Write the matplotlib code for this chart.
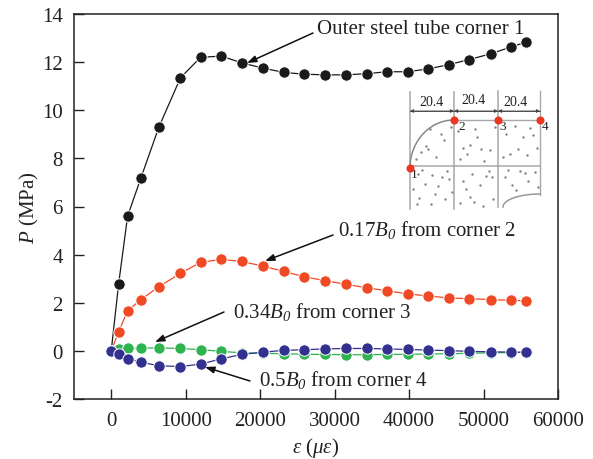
import numpy as np
import matplotlib
matplotlib.use("Agg")
import matplotlib.pyplot as plt

plt.rcParams['font.family'] = ['Liberation Serif', 'DejaVu Serif']
plt.rcParams['mathtext.fontset'] = 'custom'
plt.rcParams['mathtext.rm'] = 'Liberation Serif'
plt.rcParams['mathtext.it'] = 'Liberation Serif:italic'
plt.rcParams['mathtext.cal'] = 'Liberation Serif:italic'
plt.rcParams['mathtext.default'] = 'regular'
plt.rcParams['axes.unicode_minus'] = False

strain = [0, 1000, 2200, 4000, 6400, 9300, 12000, 14800, 17500, 20400, 23200, 25900,
          28700, 31500, 34300, 37000, 39800, 42600, 45400, 48000, 51000, 53700, 55700]
corner1 = [0, 2.8, 5.6, 7.2, 9.3, 11.35, 12.2, 12.25, 11.97, 11.75, 11.57, 11.5,
           11.47, 11.47, 11.52, 11.6, 11.6, 11.72, 11.9, 12.1, 12.35, 12.63, 12.83]
corner2 = [0, 0.8, 1.67, 2.13, 2.67, 3.22, 3.68, 3.8, 3.72, 3.52, 3.3, 3.08,
           2.92, 2.77, 2.62, 2.5, 2.37, 2.28, 2.2, 2.17, 2.13, 2.1, 2.08]
corner3 = [0, 0.08, 0.1, 0.12, 0.12, 0.1, 0.05, -0.02, -0.08, -0.1, -0.12, -0.14,
           -0.15, -0.16, -0.16, -0.15, -0.14, -0.13, -0.12, -0.1, -0.08, -0.07, -0.06]
corner4 = [0, -0.15, -0.33, -0.47, -0.62, -0.65, -0.55, -0.33, -0.15, -0.05, 0.02, 0.05,
           0.08, 0.1, 0.1, 0.08, 0.06, 0.03, 0.01, -0.02, -0.04, -0.05, -0.06]
series_colors = ['#1a1a1a', '#f04a25', '#2fb350', '#33318f']

xticks = [0, 10000, 20000, 30000, 40000, 50000, 60000]
yticks = [-2, 0, 2, 4, 6, 8, 10, 12, 14]

W, H = 593, 460
fig = plt.figure(figsize=(W / 100, H / 100), dpi=100)
L, R, T, B = 74, 558, 15, 400
ax = fig.add_axes([L / W, 1 - B / H, (R - L) / W, (B - T) / H])
ax.set_xlim(-5000, 60000)
ax.set_ylim(-2, 14)

for vals, col in zip([corner1, corner2, corner3, corner4], series_colors):
    ax.plot(strain, vals, '-', color=col, lw=0.9, marker='o', ms=8.2, mew=0.7, mec='white')

ax.set_xticks(xticks)
ax.set_yticks(yticks)
ax.tick_params(axis='both', direction='in', length=7, width=1, labelsize=15, color='#222222',
               labelcolor='#222222')
ax.tick_params(axis='x', pad=9)
ax.tick_params(axis='y', pad=8)
for s in ax.spines.values():
    s.set_linewidth(1.1)
    s.set_color('#222222')
ax.set_xlabel(r'$\mathit{\varepsilon}$ ($\mathit{\mu\varepsilon}$)', fontsize=15, color='#222222', labelpad=3)
ax.set_ylabel(r'$\mathit{P}$ (MPa)', fontsize=15, color='#222222', labelpad=1)

# annotations, placed in picture pixels
overlay = fig.add_axes([0, 0, 1, 1], facecolor='none')
overlay.set_xlim(0, W)
overlay.set_ylim(H, 0)
overlay.axis('off')

arrow = dict(arrowstyle='-|>,head_length=0.55,head_width=0.2', color='#111111', lw=1.1, shrinkA=0, shrinkB=0)
notes = [
    ('Outer steel tube corner 1', (317, 29), (313, 34), (247, 64)),
    (r'0.17$\mathit{B}_{\mathcal{0}}$ from corner 2', (338, 230), (333, 236), (265, 262)),
    (r'0.34$\mathit{B}_{\mathcal{0}}$ from corner 3', (233, 312), (224, 313), (155, 343)),
    (r'0.5$\mathit{B}_{\mathcal{0}}$ from corner 4', (259, 380), (250, 382), (205, 368)),
]
for txt, pos, tail, head in notes:
    overlay.text(pos[0], pos[1], txt, fontsize=15, color='#222222', va='center', ha='left')
    overlay.annotate('', xy=head, xytext=tail, arrowprops=arrow)

# inset section sketch
grid_x = [410, 454, 498, 540]
grey = '#a8a8a8'
speckle_x = [430, 441, 426, 444, 421, 436, 463, 470, 481, 490, 477, 460, 506, 515, 523, 533, 510, 527,
             418, 432, 447, 425, 438, 419, 445, 472, 486, 466, 480, 493, 460, 508, 520, 535, 528, 512,
             416, 428, 451, 458, 467, 475, 484, 495, 503, 518, 530, 537, 413, 422, 435, 442, 452, 463,
             474, 489, 505, 516, 525, 538, 417, 431, 449, 470, 483, 492]
speckle_y = [130, 135, 147, 141, 153, 158, 149, 146, 150, 151, 138, 160, 135, 127, 138, 136, 155, 156,
             175, 176, 172, 185, 187, 199, 200, 175, 177, 190, 186, 200, 204, 171, 172, 173, 182, 186,
             160, 150, 128, 132, 155, 130, 162, 128, 158, 150, 129, 149, 190, 171, 195, 178, 193, 182,
             203, 172, 178, 191, 174, 188, 205, 205, 180, 198, 207, 178]
overlay.scatter(speckle_x, speckle_y, s=3, color='#808080', lw=0, zorder=2)
overlay.plot([410, 410], [93, 210], color=grey, lw=1.1)
overlay.plot([454, 454], [93, 210], color=grey, lw=1.1)
overlay.plot([498, 498], [92, 208], color=grey, lw=1.1)
overlay.plot([540, 540], [92, 196], color=grey, lw=1.0)
overlay.plot([410, 540], [167, 167], color=grey, lw=1.1)
overlay.plot([454, 540], [121, 121], color=grey, lw=1.0)
t = np.linspace(0, np.pi / 2, 40)
overlay.plot(454 - 44 * np.cos(t), 169 - 48 * np.sin(t), color='#888888', lw=1.1)
overlay.plot(540 - 37 * np.cos(t), 195 + 13 * (1 - np.sin(t)), color='#999999', lw=1.1)
overlay.plot([410, 540], [112, 112], color='#555555', lw=0.7)
for x0, x1 in zip(grid_x[:-1], grid_x[1:]):
    overlay.annotate('', xy=(x0, 112), xytext=(x1, 112),
                     arrowprops=dict(arrowstyle='<|-|>,head_length=0.2,head_width=0.1', color='#444444', lw=0.6,
                                     shrinkA=0, shrinkB=0))
for x, y, s in [(431, 102, '20.4'), (473, 101, '20.4'), (516, 102, '20.4')]:
    overlay.text(x, y, s, fontsize=10, ha='center', va='center', color='#222222')
overlay.scatter([410, 454, 498, 540], [169, 121, 121, 121], s=34, color='#ee3524', lw=0, zorder=4)
for x, y, s in [(414, 175, '1'), (462, 127, '2'), (503, 127, '3'), (545, 127, '4')]:
    overlay.text(x, y, s, fontsize=9.5, ha='center', va='center', color='#222222')

fig.savefig('out.png', dpi=100)
